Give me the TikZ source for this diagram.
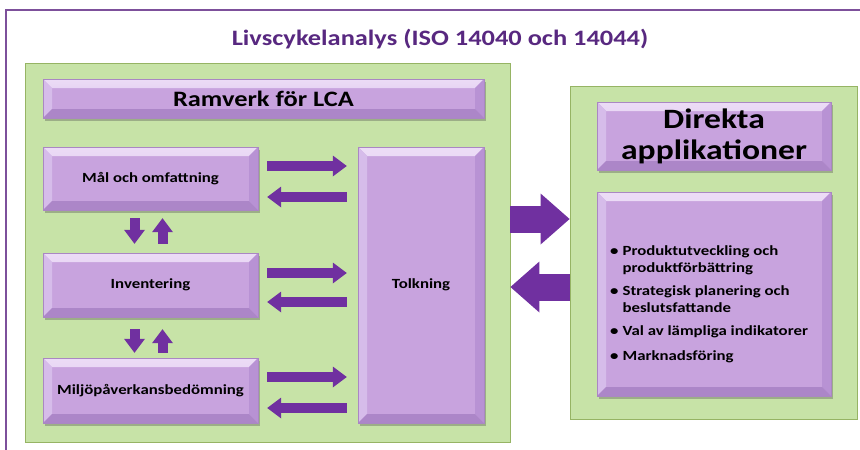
\documentclass[tikz,border=0pt]{standalone}
\usepackage{fontspec}
\setmainfont[FakeStretch=1.2]{Carlito}
\usetikzlibrary{shadows,arrows.meta}
\definecolor{greenfill}{RGB}{199,227,167}
\definecolor{greenedge}{RGB}{150,180,100}
\definecolor{boxfill}{RGB}{200,163,222}
\definecolor{bvtopA}{RGB}{236,220,246}
\definecolor{bvtopB}{RGB}{214,186,234}
\definecolor{bvleft}{RGB}{214,188,234}
\definecolor{bvright}{RGB}{184,146,212}
\definecolor{bvbottom}{RGB}{172,134,200}
\definecolor{boxedge}{RGB}{170,135,195}
\definecolor{arrowcol}{RGB}{112,48,160}
\definecolor{titlecol}{RGB}{88,40,128}
\definecolor{framecol}{RGB}{125,80,155}
\def\PB{path picture bounding box}
\def\bv{9pt}
\tikzset{
  greenbox/.style={draw=greenedge, line width=0.8pt, fill=greenfill, inner sep=0pt},
  bevelbox/.style={draw=boxedge, line width=0.4pt, fill=boxfill, inner sep=0pt,
    drop shadow={shadow xshift=2pt, shadow yshift=-2.5pt, opacity=0.35, fill=black!70},
    path picture={
      \shade[top color=bvtopA, bottom color=bvtopB] (\PB.north west) -- (\PB.north east) -- ([shift={(-\bv,-\bv)}]\PB.north east) -- ([shift={(\bv,-\bv)}]\PB.north west) -- cycle;
      \fill[bvleft] (\PB.north west) -- ([shift={(\bv,-\bv)}]\PB.north west) -- ([shift={(\bv,\bv)}]\PB.south west) -- (\PB.south west) -- cycle;
      \fill[bvright] (\PB.north east) -- ([shift={(-\bv,-\bv)}]\PB.north east) -- ([shift={(-\bv,\bv)}]\PB.south east) -- (\PB.south east) -- cycle;
      \fill[bvbottom] (\PB.south west) -- ([shift={(\bv,\bv)}]\PB.south west) -- ([shift={(-\bv,\bv)}]\PB.south east) -- (\PB.south east) -- cycle;
    }},
  boxtext/.style={font=\fontsize{14}{16}\selectfont\bfseries, text=black},
  smallarrow/.style={draw=arrowcol, line width=10pt,
    -{Triangle[width=21pt,length=14pt,line width=0pt]}},
  bigarrow/.style={draw=arrowcol, line width=27pt,
    -{Triangle[width=51pt,length=29pt,line width=0pt]}},
}
\begin{document}
\begin{tikzpicture}[x=1pt,y=-1pt]
\useasboundingbox (0,0) rectangle (860,450);
\fill[white] (0,0) rectangle (860,450);
% frame
\draw[framecol, line width=1.2pt] (860,10) -- (6,10) -- (6,450);
% title
\node[text=titlecol, font=\fontsize{22}{26}\selectfont\bfseries] (title) at (440,39) {Livscykelanalys (ISO 14040 och 14044)};
% green containers
\node[greenbox, minimum width=485pt, minimum height=379pt] (lgreen) at (267.5,252.5) {};
\node[greenbox, minimum width=287pt, minimum height=333pt] (rgreen) at (713.5,252.5) {};
% left boxes
\node[bevelbox, minimum width=441pt, minimum height=39pt, font=\fontsize{22}{24}\selectfont\bfseries] (ram) at (263.5,98.5) {Ramverk för LCA};
\node[bevelbox, boxtext, minimum width=215pt, minimum height=63pt] (mal) at (150.5,178.5) {Mål och omfattning};
\node[bevelbox, boxtext, minimum width=215pt, minimum height=64pt] (inv) at (150.5,285) {Inventering};
\node[bevelbox, boxtext, minimum width=215pt, minimum height=65pt] (milj) at (150.5,390.5) {Miljöpåverkansbedömning};
\node[bevelbox, boxtext, minimum width=126pt, minimum height=276pt] (tolk) at (421,285) {Tolkning};
% right boxes
\node[bevelbox, minimum width=234pt, minimum height=68pt, align=center, font=\fontsize{28}{31}\selectfont\bfseries] (dir) at (714,136) {Direkta\\applikationer};
\node[bevelbox, minimum width=234pt, minimum height=204pt] (app) at (714,294) {};
\node[anchor=north west, inner sep=0pt, font=\fontsize{14}{17}\selectfont\bfseries] (list) at (610,243)
  {\begin{tabular}{@{}l@{\hspace{4pt}}l@{}}
   \textbullet & Produktutveckling och\\
               & produktförbättring\\[6pt]
   \textbullet & Strategisk planering och\\
               & beslutsfattande\\[6pt]
   \textbullet & Val av lämpliga indikatorer\\[8pt]
   \textbullet & Marknadsföring
   \end{tabular}};
% horizontal small arrows
\draw[smallarrow, shorten <=9pt, shorten >=11pt] ([yshift=12.5pt]mal.east) -- ([yshift=12.5pt]mal.east -| tolk.west);
\draw[smallarrow, shorten <=11pt, shorten >=9pt] ([yshift=-18.5pt]mal.east -| tolk.west) -- ([yshift=-18.5pt]mal.east);
\draw[smallarrow, shorten <=9pt, shorten >=11pt] ([yshift=12pt]inv.east) -- ([yshift=12pt]inv.east -| tolk.west);
\draw[smallarrow, shorten <=11pt, shorten >=9pt] ([yshift=-17pt]inv.east -| tolk.west) -- ([yshift=-17pt]inv.east);
\draw[smallarrow, shorten <=9pt, shorten >=11pt] ([yshift=13.5pt]milj.east) -- ([yshift=13.5pt]milj.east -| tolk.west);
\draw[smallarrow, shorten <=11pt, shorten >=9pt] ([yshift=-17.5pt]milj.east -| tolk.west) -- ([yshift=-17.5pt]milj.east);
% vertical small arrows
\draw[smallarrow, shorten <=8pt, shorten >=9pt] ([xshift=-16pt]mal.south) -- ([xshift=-16pt]inv.north);
\draw[smallarrow, shorten <=9pt, shorten >=8pt] ([xshift=12pt]inv.north) -- ([xshift=12pt]mal.south);
\draw[smallarrow, shorten <=12pt, shorten >=5pt] ([xshift=-16pt]inv.south) -- ([xshift=-16pt]milj.north);
\draw[smallarrow, shorten <=5pt, shorten >=12pt] ([xshift=12pt]milj.north) -- ([xshift=12pt]inv.south);
% big arrows
\draw[bigarrow] ([yshift=33.5pt]lgreen.east) -- ([yshift=33.5pt]lgreen.east -| rgreen.west);
\draw[bigarrow] ([yshift=-34.5pt]lgreen.east -| rgreen.west) -- ([yshift=-34.5pt]lgreen.east);
\end{tikzpicture}
\end{document}
